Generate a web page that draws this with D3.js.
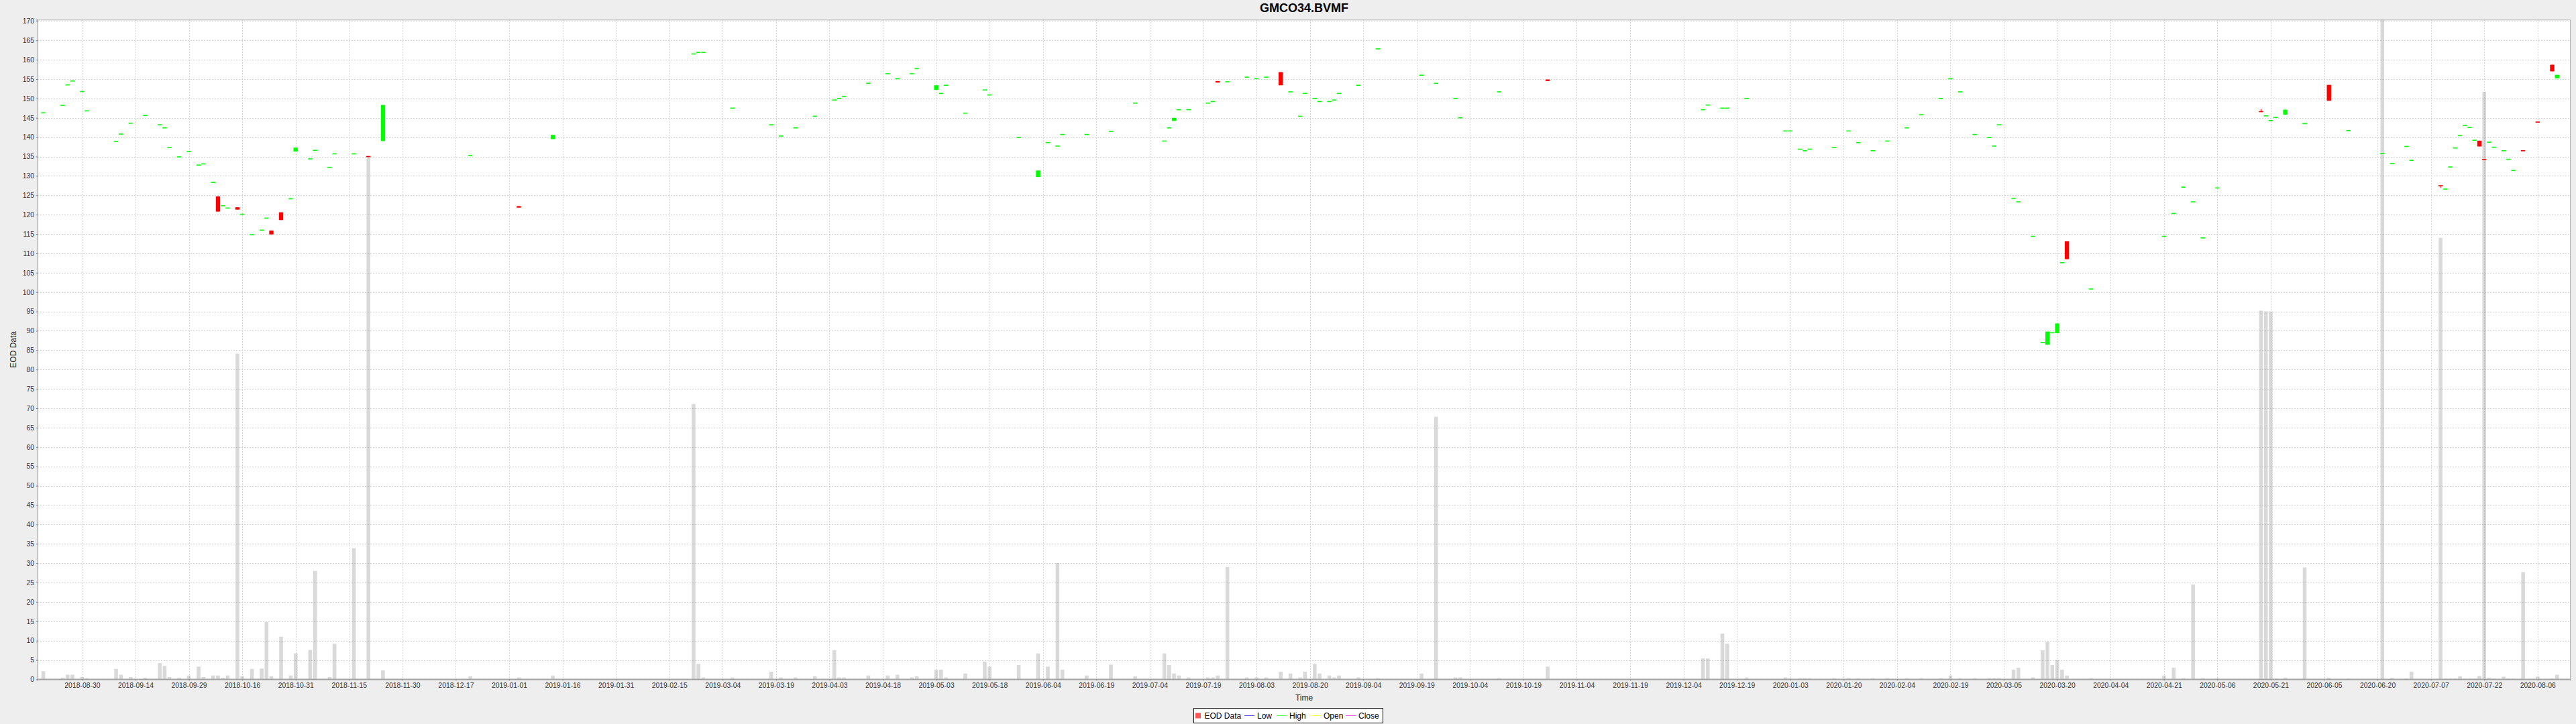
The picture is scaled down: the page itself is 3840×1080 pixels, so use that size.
<!DOCTYPE html>
<html><head><meta charset="utf-8">
<script src="https://cdn.jsdelivr.net/npm/d3@7"></script>
<style>
body{margin:0;background:#eeeeee;}
svg{display:block;}
text{font-family:"Liberation Sans",Arial,sans-serif;}
</style></head>
<body><svg id="chart" width="3840" height="1080"></svg>
<script>
// ---------------- data ----------------
const title = "GMCO34.BVMF";
const seriesName = "EOD Data";
const legendNames = ["Low", "High", "Open", "Close"];
const dates = [
 "2018-08-20","2018-08-24","2018-08-27","2018-08-28","2018-08-30","2018-08-31","2018-09-10","2018-09-11","2018-09-13","2018-09-18",
 "2018-09-21","2018-09-24","2018-09-25","2018-09-27","2018-10-01","2018-10-03","2018-10-04","2018-10-08","2018-10-09","2018-10-10",
 "2018-10-11","2018-10-15","2018-10-16","2018-10-18","2018-10-22","2018-10-23","2018-10-24","2018-10-26","2018-10-30","2018-10-31",
 "2018-11-05","2018-11-06","2018-11-09","2018-11-12","2018-11-16","2018-11-21","2018-11-26","2018-12-20",
 "2019-01-03","2019-01-14","2019-02-22","2019-02-25","2019-02-26","2019-03-06","2019-03-18","2019-03-20","2019-03-25","2019-03-29",
 "2019-04-04","2019-04-05","2019-04-08","2019-04-15","2019-04-19","2019-04-23","2019-04-26","2019-04-29","2019-05-03","2019-05-06",
 "2019-05-07","2019-05-13","2019-05-17","2019-05-20","2019-05-28","2019-06-03","2019-06-05","2019-06-07","2019-06-10","2019-06-17",
 "2019-06-24","2019-07-01","2019-07-09","2019-07-10","2019-07-11","2019-07-12","2019-07-16","2019-07-22","2019-07-23","2019-07-24",
 "2019-07-26","2019-08-01","2019-08-05","2019-08-07","2019-08-12","2019-08-14","2019-08-16","2019-08-19","2019-08-21","2019-08-22",
 "2019-08-26","2019-08-27","2019-08-28","2019-09-03","2019-09-09","2019-09-20","2019-09-25","2019-10-01","2019-10-02","2019-10-14",
 "2019-10-28","2019-12-11","2019-12-12","2019-12-17","2019-12-18","2019-12-24","2020-01-03","2020-01-06","2020-01-08","2020-01-09",
 "2020-01-10","2020-01-17","2020-01-22","2020-01-24","2020-01-29","2020-02-03","2020-02-07","2020-02-12","2020-02-18","2020-02-20",
 "2020-02-24","2020-02-27","2020-03-03","2020-03-04","2020-03-05","2020-03-10","2020-03-11","2020-03-16","2020-03-18","2020-03-19",
 "2020-03-20","2020-03-23","2020-03-24","2020-03-25","2020-04-01","2020-04-22","2020-04-24","2020-04-28","2020-04-30","2020-05-04",
 "2020-05-07","2020-05-20","2020-05-21","2020-05-22","2020-05-25","2020-05-27","2020-06-02","2020-06-09","2020-06-15","2020-06-24",
 "2020-06-26","2020-07-01","2020-07-02","2020-07-10","2020-07-13","2020-07-14","2020-07-15","2020-07-16","2020-07-17","2020-07-20",
 "2020-07-21","2020-07-22","2020-07-23","2020-07-24","2020-07-27","2020-07-29","2020-07-30","2020-07-31","2020-08-04","2020-08-07",
 "2020-08-12","2020-08-13"
];
const openP = [
 146.3,148.2,153.5,154.5,151.8,146.8,138.9,140.8,143.6,145.6, 143.2,142.4,137.3,134.9,136.3,132.8,133.1,128.3,124.7,122.3,
 121.7,121.9,120.1,114.8,116.0,119.1,115.9,120.6,124.1,136.3, 134.4,136.6,132.2,135.7,135.7,135.1,139.0,135.3,
 122.2,139.5,161.5,161.9,161.9,147.5,143.2,140.3,142.4,145.4,
 149.6,150.0,150.5,153.9,156.4,155.1,156.4,157.7,152.2,151.3,
 153.4,146.2,152.2,150.9,139.9,129.7,138.6,137.7,140.7,140.7,
 141.5,148.8,139.0,142.4,144.2,147.1,147.1,148.8,149.2,154.5,
 154.3,155.5,155.1,155.5,156.8,151.7,145.4,151.3,150.0,149.2,
 149.2,149.6,151.3,153.4,162.8,156.0,153.9,150.0,145.0,151.7,
 154.9,147.1,148.3,147.5,147.5,150.0,141.6,141.6,136.9,136.5,
 136.9,137.3,141.6,138.6,136.5,139.0,142.4,145.8,150.0,155.1,
 151.7,140.7,139.9,137.7,143.2,124.2,123.3,114.4,87.0,86.4,
 89.5,89.4,107.6,113.1,100.8,114.4,120.3,127.1,123.3,114.0,
 126.9,146.7,145.5,144.3,145.1,145.8,143.5,153.5,141.7,135.8,
 133.2,137.6,134.0,127.6,126.6,132.3,137.2,140.4,143.0,142.5,
 139.2,139.1,134.3,138.7,137.4,136.5,134.3,131.4,136.6,144.0,
 158.7,155.2
];
const highP = [
 146.3,148.2,153.5,154.5,151.8,146.8,138.9,140.8,143.6,145.6, 143.2,142.4,137.3,134.9,136.3,132.8,133.1,128.3,124.8,122.3,
 121.7,121.9,120.1,114.8,116.0,119.1,115.9,120.6,124.1,137.3, 134.4,136.6,132.2,135.7,135.7,135.1,148.3,135.3,
 122.2,140.6,161.5,161.9,161.9,147.5,143.2,140.3,142.4,145.4,
 149.6,150.0,150.5,153.9,156.4,155.1,156.4,157.7,153.4,151.3,
 153.4,146.2,152.2,150.9,139.9,131.4,138.6,137.7,140.7,140.7,
 141.5,148.8,139.0,142.4,145.0,147.1,147.1,148.8,149.2,154.5,
 154.3,155.5,155.1,155.5,156.8,151.7,145.4,151.3,150.0,149.2,
 149.2,149.6,151.3,153.4,162.8,156.0,153.9,150.0,145.0,151.7,
 154.9,147.1,148.3,147.5,147.5,150.0,141.6,141.6,136.9,136.5,
 136.9,137.3,141.6,138.6,136.5,139.0,142.4,145.8,150.0,155.1,
 151.7,140.7,139.9,137.7,143.2,124.2,123.3,114.4,87.0,89.8,
 89.5,91.9,107.6,113.1,100.8,114.4,120.3,127.1,123.3,114.0,
 126.9,147.2,145.5,144.3,145.1,147.1,143.5,153.5,141.7,135.8,
 133.2,137.6,134.0,127.6,126.6,132.3,137.2,140.4,143.0,142.5,
 139.2,139.1,134.3,138.7,137.4,136.5,134.3,131.4,136.6,144.0,
 158.7,156.1
];
const lowP = [
 146.3,148.2,153.5,154.5,151.8,146.8,138.9,140.8,143.6,145.6, 143.2,142.4,137.3,134.9,136.3,132.8,133.1,128.3,120.7,122.3,
 121.7,121.3,120.1,114.8,116.0,119.1,114.9,118.6,124.1,136.3, 134.4,136.6,132.2,135.7,135.7,134.9,139.0,135.3,
 121.8,139.5,161.5,161.9,161.9,147.5,143.2,140.3,142.4,145.4,
 149.6,150.0,150.5,153.9,156.4,155.1,156.4,157.7,152.2,151.3,
 153.4,146.2,152.2,150.9,139.9,129.7,138.6,137.7,140.7,140.7,
 141.5,148.8,139.0,142.4,144.2,147.1,147.1,148.8,149.2,154.1,
 154.3,155.5,155.1,155.5,153.4,151.7,145.4,151.3,150.0,149.2,
 149.2,149.6,151.3,153.4,162.8,156.0,153.9,150.0,145.0,151.7,
 154.5,147.1,148.3,147.5,147.5,150.0,141.6,141.6,136.9,136.5,
 136.9,137.3,141.6,138.6,136.5,139.0,142.4,145.8,150.0,155.1,
 151.7,140.7,139.9,137.7,143.2,124.2,123.3,114.4,87.0,86.4,
 89.5,89.4,107.6,108.5,100.8,114.4,120.3,127.1,123.3,114.0,
 126.9,146.5,145.5,144.3,145.1,145.8,143.5,149.4,141.7,135.8,
 133.2,137.6,134.0,126.9,126.6,132.3,137.2,140.4,143.0,142.5,
 139.2,137.6,134.1,138.7,137.4,136.5,134.3,131.4,136.4,143.8,
 157.0,155.2
];
const closeP = [
 146.3,148.2,153.5,154.5,151.8,146.8,138.9,140.8,143.6,145.6, 143.2,142.4,137.3,134.9,136.3,132.8,133.1,128.3,120.8,122.3,
 121.7,121.3,120.1,114.8,116.0,119.1,114.9,118.6,124.1,137.3, 134.4,136.6,132.2,135.7,135.7,134.9,148.3,135.3,
 121.8,140.6,161.5,161.9,161.9,147.5,143.2,140.3,142.4,145.4,
 149.6,150.0,150.5,153.9,156.4,155.1,156.4,157.7,153.4,151.3,
 153.4,146.2,152.2,150.9,139.9,131.4,138.6,137.7,140.7,140.7,
 141.5,148.8,139.0,142.4,145.0,147.1,147.1,148.8,149.2,154.1,
 154.3,155.5,155.1,155.5,153.4,151.7,145.4,151.3,150.0,149.2,
 149.2,149.6,151.3,153.4,162.8,156.0,153.9,150.0,145.0,151.7,
 154.5,147.1,148.3,147.5,147.5,150.0,141.6,141.6,136.9,136.5,
 136.9,137.3,141.6,138.6,136.5,139.0,142.4,145.8,150.0,155.1,
 151.7,140.7,139.9,137.7,143.2,124.2,123.3,114.4,87.0,89.8,
 89.5,91.9,107.6,108.5,100.8,114.4,120.3,127.1,123.3,114.0,
 126.9,146.5,145.5,144.3,145.1,147.1,143.5,149.4,141.7,135.8,
 133.2,137.6,134.0,127.3,126.6,132.3,137.2,140.4,143.0,142.5,
 139.2,137.6,134.1,138.7,137.4,136.5,134.3,131.4,136.4,143.8,
 157.0,156.1
];
const volume = [
 2.1,0.4,1.2,1.2,0.6,0.3,2.7,1.2,0.6,0.4, 4.2,3.5,0.6,0.4,1.0,3.3,0.6,1.0,1.0,0.4,
 1.0,84.1,0.8,2.7,2.8,14.8,0.8,11.0,1.0,6.7, 7.6,28.0,0.6,9.2,33.9,135.1,2.3,0.8,
 0.5,1.0,71.1,4.0,0.5,0.5,2.0,0.5,0.5,0.8,
 7.5,0.5,0.5,1.0,1.0,1.2,0.5,0.8,2.5,2.5,
 0.5,1.5,4.6,3.3,3.7,6.7,3.3,30.0,2.5,1.0,
 3.8,0.8,6.7,3.7,1.5,1.0,0.5,0.5,0.5,1.0,
 29.0,0.5,0.5,0.5,2.0,1.5,0.5,2.0,4.0,1.5,
 1.0,0.5,1.0,0.5,0.3,1.5,67.8,0.5,0.5,0.3,
 3.3,5.4,5.4,11.8,9.2,0.5,0.5,0.3,0.3,0.3,
 0.3,0.3,0.3,0.3,0.3,0.3,0.3,0.3,0.3,1.0,
 0.3,0.3,0.3,0.3,0.3,2.5,3.0,0.5,7.5,9.7,
 3.7,5.0,2.5,1.0,0.3,1.0,3.0,0.3,24.5,0.3,
 0.3,95.2,95.0,95.0,0.2,0.4,28.9,0.4,0.2,170.4,
 0.4,0.2,2.0,114.0,0.2,0.2,0.2,0.8,0.2,0.2,
 0.2,0.9,151.7,0.4,0.2,0.7,0.2,0.2,27.7,0.7,
 0.2,1.2
];
const xTickLabels = [
 "2018-08-30","2018-09-14","2018-09-29","2018-10-16","2018-10-31","2018-11-15","2018-11-30","2018-12-17",
 "2019-01-01","2019-01-16","2019-01-31","2019-02-15","2019-03-04","2019-03-19","2019-04-03","2019-04-18",
 "2019-05-03","2019-05-18","2019-06-04","2019-06-19","2019-07-04","2019-07-19","2019-08-03","2019-08-20",
 "2019-09-04","2019-09-19","2019-10-04","2019-10-19","2019-11-04","2019-11-19","2019-12-04","2019-12-19",
 "2020-01-03","2020-01-20","2020-02-04","2020-02-19","2020-03-05","2020-03-20","2020-04-04","2020-04-21",
 "2020-05-06","2020-05-21","2020-06-05","2020-06-20","2020-07-07","2020-07-22","2020-08-06"
];
const yTickValues = [0,5,10,15,20,25,30,35,40,45,50,55,60,65,70,75,80,85,90,95,100,105,110,115,120,125,130,135,140,145,150,155,160,165,170];
const tradingDaysPerTick = 11;

// ---------------- helpers ----------------
// trading-day index (Mon-Fri) counted from 2018-08-30
const baseMonday = Date.UTC(2018, 7, 27);
function tradingIndex(s) {
  const [y, m, d] = s.split("-").map(Number);
  const days = Math.round((Date.UTC(y, m - 1, d) - baseMonday) / 864e5);
  const k = Math.floor(days / 7), off = days - 7 * k;
  return 5 * k + Math.min(off, 5) - 3;
}
const rows = dates.map((d, i) => ({
  t: tradingIndex(d), o: openP[i], h: highP[i], l: lowP[i], c: closeP[i], v: volume[i]
}));

// ---------------- layout ----------------
const W = 3840, H = 1080;
const plot = {left: 56, right: 3832, top: 29.3, bottom: 1013.4};
const svg = d3.select("#chart");
svg.append("rect").attr("width", W).attr("height", H).attr("fill", "#eeeeee");

const x = d3.scaleLinear().domain([-9.18, 512.8]).range([plot.left, plot.right]);
const y = d3.scaleLinear().domain([0, 170.35]).range([plot.bottom, plot.top]);

svg.append("rect").attr("x", plot.left).attr("y", plot.top)
  .attr("width", plot.right - plot.left).attr("height", plot.bottom - plot.top)
  .attr("fill", "#ffffff");

const xTickVals = xTickLabels.map((_, i) => i * tradingDaysPerTick);

// grid
const grid = svg.append("g");
grid.selectAll("line.h").data(yTickValues).join("line")
  .attr("x1", plot.left).attr("x2", plot.right)
  .attr("y1", d => Math.round(y(d)) + 0.5).attr("y2", d => Math.round(y(d)) + 0.5)
  .attr("stroke", "#d2d2d2").attr("stroke-dasharray", "2,2");
grid.selectAll("line.v").data(xTickVals).join("line")
  .attr("y1", plot.top).attr("y2", plot.bottom)
  .attr("x1", d => Math.round(x(d)) + 0.5).attr("x2", d => Math.round(x(d)) + 0.5)
  .attr("stroke", "#d2d2d2").attr("stroke-dasharray", "2,2");

// volume bars
const volW = 5.6;
svg.append("g").selectAll("rect").data(rows).join("rect")
  .attr("x", d => x(d.t) - volW / 2).attr("width", volW)
  .attr("y", d => y(d.v)).attr("height", d => y(0) - y(d.v))
  .attr("fill", "rgb(128,128,128)").attr("fill-opacity", 0.3);

// candles
const candW = 6.4;
const cg = svg.append("g");
cg.selectAll("line").data(rows).join("line")
  .attr("x1", d => x(d.t)).attr("x2", d => x(d.t))
  .attr("y1", d => y(d.h)).attr("y2", d => y(d.l))
  .attr("stroke", d => d.c >= d.o ? "#00ff00" : "#ff0000").attr("stroke-width", 1);
cg.selectAll("rect").data(rows).join("rect")
  .attr("x", d => x(d.t) - candW / 2).attr("width", candW)
  .attr("y", d => { const top = y(Math.max(d.o, d.c)), bot = y(Math.min(d.o, d.c));
      return bot - top < 1.6 ? (top + bot) / 2 - 0.8 : top; })
  .attr("height", d => Math.max(1.6, y(Math.min(d.o, d.c)) - y(Math.max(d.o, d.c))))
  .attr("fill", d => d.c >= d.o ? "#00ff00" : "#ff0000");

// plot outline
svg.append("rect").attr("x", plot.left + 0.5).attr("y", plot.top + 0.5)
  .attr("width", plot.right - plot.left - 1).attr("height", plot.bottom - plot.top - 1)
  .attr("fill", "none").attr("stroke", "#b0b0b0");

// axes
const fontTick = "10.4px";
const yAxis = d3.axisLeft(y).tickValues(yTickValues).tickSize(2).tickPadding(3).tickFormat(d3.format("d"));
const gy = svg.append("g").attr("transform", `translate(${plot.left},0)`).call(yAxis);
gy.select(".domain").attr("stroke", "#888888");
gy.selectAll(".tick line").attr("stroke", "#888888");
gy.selectAll("text").attr("font-size", fontTick).attr("fill", "#333333").attr("font-family", "Liberation Sans, Arial, sans-serif");

const xAxis = d3.axisBottom(x).tickValues(xTickVals).tickSize(2).tickPadding(3)
  .tickFormat((d, i) => xTickLabels[i]);
const gx = svg.append("g").attr("transform", `translate(0,${plot.bottom})`).call(xAxis);
gx.select(".domain").attr("stroke", "#888888");
gx.selectAll(".tick line").attr("stroke", "#888888");
gx.selectAll("text").attr("font-size", fontTick).attr("fill", "#333333").attr("font-family", "Liberation Sans, Arial, sans-serif");

// titles
svg.append("text").attr("x", (plot.left + plot.right) / 2).attr("y", 18)
  .attr("text-anchor", "middle").attr("font-size", "18px").attr("font-weight", "bold")
  .attr("fill", "#000").text(title);
svg.append("text").attr("transform", `translate(24,${(plot.top + plot.bottom) / 2}) rotate(-90)`)
  .attr("text-anchor", "middle").attr("font-size", "12px").attr("fill", "#222").text("EOD Data");
svg.append("text").attr("x", (plot.left + plot.right) / 2).attr("y", 1045)
  .attr("text-anchor", "middle").attr("font-size", "12px").attr("fill", "#222").text("Time");

// legend
const lg = svg.append("g");
lg.append("rect").attr("x", 1779.5).attr("y", 1056.5).attr("width", 282).attr("height", 22)
  .attr("fill", "#ffffff").attr("stroke", "#000000");
lg.append("rect").attr("x", 1782).attr("y", 1063.5).attr("width", 8).attr("height", 8).attr("fill", "#ff5555");
lg.append("text").attr("x", 1795.5).attr("y", 1072).attr("font-size", "12px").text(seriesName);
const legendColors = ["#5555ff", "#55ff55", "#ffff55", "#ff55ff"];
const legendLineX = [1855, 1903, 1954, 2006];
legendNames.forEach((n, i) => {
  lg.append("line").attr("x1", legendLineX[i]).attr("x2", legendLineX[i] + 15)
    .attr("y1", 1067.5).attr("y2", 1067.5).attr("stroke", legendColors[i]);
  lg.append("text").attr("x", legendLineX[i] + 19).attr("y", 1072).attr("font-size", "12px").text(n);
});
</script></body></html>
